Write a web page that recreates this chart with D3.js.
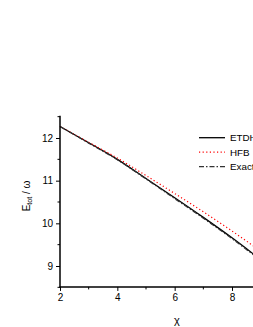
<!DOCTYPE html>
<html><head><meta charset="utf-8">
<script src="https://cdn.jsdelivr.net/npm/d3@7"></script>
<style>body{margin:0;background:#fff}svg{display:block}text{font-family:"Liberation Sans",Arial,sans-serif}</style>
</head><body>
<script>
const chi = [2, 3, 4, 5, 6, 7, 8, 9];
const etdhf = [12.27, 11.89, 11.50, 11.05, 10.60, 10.14, 9.66, 9.15];
const hfb   = [12.27, 11.90, 11.53, 11.12, 10.70, 10.27, 9.82, 9.35];
const exact = [12.27, 11.88, 11.49, 11.04, 10.58, 10.12, 9.64, 9.13];
const xTicks = [2, 4, 6, 8];
const xMinor = [3, 5, 7];
const yTicks = [9, 10, 11, 12];
const yMinor = [8.5, 9.5, 10.5, 11.5, 12.5];
const seriesNames = ["ETDHF", "HFB", "Exact"];

const W = 253, H = 327;
const svg = d3.select("body").append("svg").attr("width", W).attr("height", H);
const x = d3.scaleLinear().domain([2, 8]).range([60, 232]);
const y = d3.scaleLinear().domain([9, 12]).range([266, 138]);
const yTop = y(12.52), yBot = y(8.51);

const series = [
  {name: seriesNames[0], v: etdhf, color: "#000", dash: null, w: 1.3},
  {name: seriesNames[1], v: hfb, color: "#ff0000", dash: "1.2,2.4", w: 1.2},
  {name: seriesNames[2], v: exact, color: "#333", dash: "5,2,1.5,2", w: 1.2}
];
const line = d3.line().x((d, i) => x(chi[i])).y(d => y(d)).curve(d3.curveMonotoneX);
series.forEach(s => {
  svg.append("path").datum(s.v).attr("d", line).attr("fill", "none")
    .attr("stroke", s.color).attr("stroke-width", s.w)
    .attr("stroke-dasharray", s.dash);
});

// axes
const xAxis = d3.axisBottom(x).tickValues(xTicks).tickSize(4).tickPadding(3).tickFormat(d3.format("d"));
const gx = svg.append("g").attr("transform", `translate(0,${yBot})`).call(xAxis);
gx.select(".domain").remove();
gx.append("g").selectAll("line").data(xMinor).join("line")
  .attr("x1", d => x(d)).attr("x2", d => x(d)).attr("y1", 0).attr("y2", 2.5).attr("stroke", "#000");
svg.append("line").attr("x1", 59.5).attr("x2", W).attr("y1", yBot).attr("y2", yBot).attr("stroke", "#000").attr("stroke-width", 1.5);

const yAxis = d3.axisLeft(y).tickValues(yTicks).tickSize(4).tickPadding(3).tickFormat(d3.format("d"));
const gy = svg.append("g").attr("transform", "translate(60,0)").call(yAxis);
gy.select(".domain").remove();
gy.append("g").selectAll("line").data(yMinor).join("line")
  .attr("y1", d => y(d)).attr("y2", d => y(d)).attr("x1", 0).attr("x2", -2.5).attr("stroke", "#000");
svg.append("line").attr("x1", 60).attr("x2", 60).attr("y1", yTop).attr("y2", yBot + 0.75).attr("stroke", "#000").attr("stroke-width", 1.5);

svg.selectAll(".tick text").attr("font-size", 10).attr("font-family", "Liberation Sans, Arial, sans-serif").attr("fill", "#000");

// axis labels
svg.append("text").attr("x", 177).attr("y", 324).attr("text-anchor", "middle")
  .attr("font-size", 11).text("χ");
const yl = svg.append("text").attr("transform", "translate(29.5,196) rotate(-90)")
  .attr("text-anchor", "middle").attr("font-size", 10);
yl.append("tspan").text("E");
yl.append("tspan").attr("font-size", 7).attr("dy", 2.5).text("tot");
yl.append("tspan").attr("dy", -2.5).text(" / ω");

// legend
const lg = svg.append("g");
series.forEach((s, i) => {
  const ly = 137.7 + i * 14.5;
  lg.append("line").attr("x1", 199).attr("x2", 225).attr("y1", ly).attr("y2", ly)
    .attr("stroke", s.color).attr("stroke-width", s.w).attr("stroke-dasharray", s.dash);
  lg.append("text").attr("x", 230).attr("y", ly + 3.5).attr("font-size", 9.8).text(s.name);
});
</script>
</body></html>
